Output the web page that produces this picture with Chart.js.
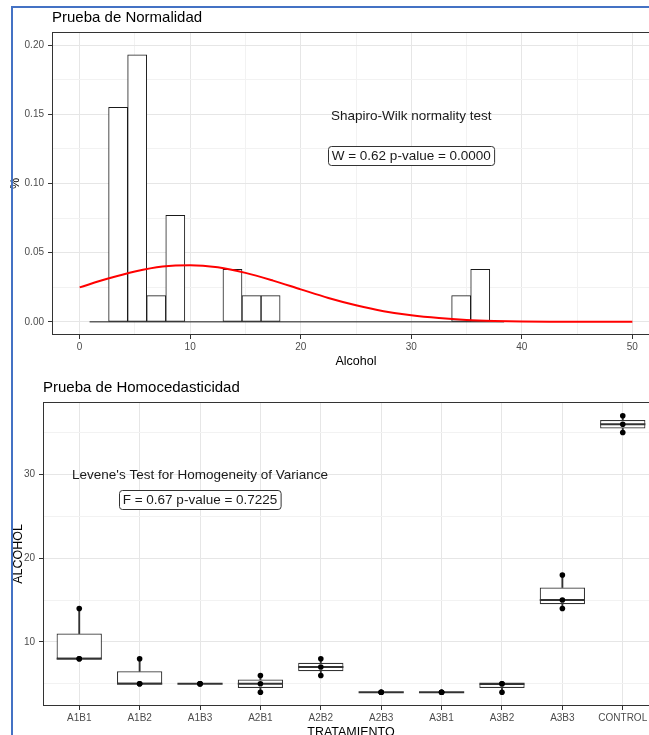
<!DOCTYPE html>
<html><head><meta charset="utf-8">
<script src="https://cdn.jsdelivr.net/npm/chart.js@4.4.1/dist/chart.umd.min.js"></script>
<style>
html,body{margin:0;padding:0;background:#fff;overflow:hidden;width:649px;height:735px;}
#wrap{position:relative;width:649px;height:735px;overflow:hidden;background:#fff;}
canvas{position:absolute;left:0;}
#c1{top:0;}
#c2{top:370px;}
#frame{position:absolute;left:11px;top:6px;width:700px;height:800px;border-left:2px solid #4472c4;border-top:2px solid #4472c4;pointer-events:none;}
</style></head><body>
<div id="wrap">
<canvas id="c1" width="670" height="370"></canvas>
<canvas id="c2" width="670" height="380"></canvas>
<div id="frame"></div>
</div>
<script>
// ---------- Data: Prueba de Normalidad (histogram of Alcohol, density scale) ----------
const histBinCenters = [3.482, 5.206, 6.930, 8.654, 13.826, 15.550, 17.274, 34.514, 36.238];
const histDensity    = [0.155, 0.193, 0.019, 0.077, 0.038, 0.019, 0.019, 0.019, 0.038];
const histBaseline   = [0.9, 38.4];
const curveX       = [0, 2.5, 5, 7.5, 10, 12.5, 15, 17.5, 20, 22.5, 25, 27.5, 30, 32.5, 35, 37.5, 40, 42.5, 45, 47.5, 50];
const curveDensity = [0.0249, 0.0311, 0.0364, 0.0400, 0.0410, 0.0394, 0.0354, 0.0298, 0.0235, 0.0173, 0.0120, 0.0077, 0.0047, 0.0027, 0.0014, 0.0007, 0.0003, 0.0001, 0.0000, 0.0000, 0.0000];
const topXTicks = [0, 10, 20, 30, 40, 50];                       // labelled ticks
const topXGrid  = [0, 5, 10, 15, 20, 25, 30, 35, 40, 45, 50];    // major + minor grid
const topYTicks = [0, 0.05, 0.10, 0.15, 0.20];
const topYGrid  = [0, 0.025, 0.05, 0.075, 0.10, 0.125, 0.15, 0.175, 0.20];

// ---------- Data: Prueba de Homocedasticidad (boxplots of ALCOHOL by TRATAMIENTO) ----------
const treatments = ['A1B1','A1B2','A1B3','A2B1','A2B2','A2B3','A3B1','A3B2','A3B3','CONTROL'];
const alcohol = [[8,8,14],[5,5,8],[5,5,5],[4,5,6],[6,7,8],[4,4,4],[4,4,4],[4,5,5],[14,15,18],[35,36,37]];
const whiskLow  = [8, 5, 5, 4,   6,   4, 4, 4,   14,   35];
const boxQ1     = [8, 5, 5, 4.5, 6.5, 4, 4, 4.5, 14.5, 35.5];
const boxMed    = [8, 5, 5, 5,   7,   4, 4, 5,   15,   36];
const boxQ3     = [11, 6.5, 5, 5.5, 7.5, 4, 4, 5, 16.5, 36.5];
const whiskHigh = [14, 8, 5, 6,   8,   4, 4, 5,   18,   37];
const bottomYTicks = [10, 20, 30];
const bottomYGrid  = [5, 10, 15, 20, 25, 30, 35];

// ---------- Styling ----------
const FONT = '"Liberation Sans", Arial, Helvetica, sans-serif';
Chart.defaults.font.family = FONT;
Chart.defaults.color = '#4d4d4d';
const GRID_MAJOR = '#e6e6e6', GRID_MINOR = '#f2f2f2', INK = '#333333';
const near = (v, list) => list.some(t => Math.abs(t - v) < 1e-7);
const fixTicks = values => scale => { scale.ticks = values.map(v => ({value: v})); };

const panelBorder = {
  id: 'panelBorder',
  afterDatasetsDraw(chart) {
    const {ctx, chartArea: a} = chart;
    ctx.save();
    ctx.strokeStyle = INK; ctx.lineWidth = 1;
    ctx.strokeRect(Math.round(a.left) + 0.5, Math.round(a.top) + 0.5,
                   Math.round(a.right - a.left), Math.round(a.bottom - a.top) - 1);
    ctx.restore();
  }
};

const annot = {
  id: 'annot',
  afterDatasetsDraw(chart, args, opts) {
    const {ctx, scales: {x, y}} = chart;
    ctx.save();
    ctx.font = '13.5px ' + FONT;
    ctx.textAlign = 'center';
    ctx.textBaseline = 'middle';
    (opts.items || []).forEach(n => {
      const px = x.getPixelForValue(n.x), py = y.getPixelForValue(n.y);
      if (n.box) {
        const w = ctx.measureText(n.text).width + 7, h = 19, r = 3;
        const l = Math.round(px - w / 2) + 0.5, t = Math.round(py - h / 2) + 0.5;
        ctx.beginPath();
        ctx.moveTo(l + r, t);
        ctx.lineTo(l + w - r, t); ctx.arcTo(l + w, t, l + w, t + r, r);
        ctx.lineTo(l + w, t + h - r); ctx.arcTo(l + w, t + h, l + w - r, t + h, r);
        ctx.lineTo(l + r, t + h); ctx.arcTo(l, t + h, l, t + h - r, r);
        ctx.lineTo(l, t + r); ctx.arcTo(l, t, l + r, t, r);
        ctx.closePath();
        ctx.fillStyle = '#fff'; ctx.fill();
        ctx.strokeStyle = INK; ctx.lineWidth = 1; ctx.stroke();
      }
      ctx.fillStyle = '#1a1a1a';
      ctx.fillText(n.text, px, py + 0.5);
    });
    ctx.restore();
  }
};

const topNotes = [
  {text: 'Shapiro-Wilk normality test', x: 30, y: 0.149, box: false},
  {text: 'W = 0.62 p-value = 0.0000', x: 30, y: 0.12, box: true}
];
const bottomNotes = [
  {text: "Levene's Test for Homogeneity of Variance", x: 3, y: 30, box: false},
  {text: 'F = 0.67 p-value = 0.7225', x: 3, y: 27, box: true}
];

const titleOpts = text => ({
  display: true, text, align: 'start', fullSize: false, color: '#000',
  font: {size: 15, weight: 'normal'}, padding: {top: 9, bottom: 5}
});
const axisTitle = (text, pad) => ({display: true, text, color: '#000', font: {size: 12.5}, padding: pad});

// ---------- Chart 1: histogram + normal curve ----------
new Chart(document.getElementById('c1'), {
  type: 'bar',
  data: {
    datasets: [
      {type: 'line', data: curveX.map((x, i) => ({x, y: curveDensity[i]})),
       borderColor: '#ff0000', borderWidth: 2, pointRadius: 0, cubicInterpolationMode: 'monotone', order: 0},
      {type: 'bar', data: histBinCenters.map((x, i) => ({x, y: histDensity[i]})),
       backgroundColor: '#ffffff', borderColor: '#1a1a1a', borderWidth: 1, borderSkipped: false,
       categoryPercentage: 1, barPercentage: 1, order: 1},
      {type: 'line', data: histBaseline.map(x => ({x, y: 0})),
       borderColor: '#1a1a1a', borderWidth: 1, pointRadius: 0, order: 2}
    ]
  },
  options: {
    responsive: false, animation: false,
    layout: {autoPadding: false, padding: {left: 0, right: 10, top: 0, bottom: 0}},
    plugins: {
      legend: {display: false}, tooltip: {enabled: false},
      title: titleOpts('Prueba de Normalidad'),
      annot: {items: topNotes}
    },
    scales: {
      x: {
        type: 'linear', min: -2.5, max: 52.5, offset: false,
        afterBuildTicks: fixTicks(topXGrid),
        grid: {offset: false, color: c => near(c.tick.value, topXTicks) ? GRID_MAJOR : GRID_MINOR,
               tickColor: c => near(c.tick.value, topXTicks) ? INK : 'rgba(0,0,0,0)', tickLength: 4},
        border: {display: false},
        ticks: {autoSkip: false, maxRotation: 0, padding: 2, font: {size: 10}, color: '#4d4d4d',
                callback: v => near(v, topXTicks) ? String(Math.round(v)) : ''},
        title: axisTitle('Alcohol', {top: 0, bottom: 0.5}),
        afterFit: s => { s.height = 35; }
      },
      y: {
        type: 'linear', min: -0.0095, max: 0.2095,
        afterBuildTicks: fixTicks(topYGrid),
        grid: {color: c => near(c.tick.value, topYTicks) ? GRID_MAJOR : GRID_MINOR,
               tickColor: c => near(c.tick.value, topYTicks) ? INK : 'rgba(0,0,0,0)', tickLength: 4},
        border: {display: false},
        ticks: {autoSkip: false, padding: 4, font: {size: 10}, color: '#4d4d4d',
                callback: v => near(v, topYTicks) ? v.toFixed(2) : ''},
        title: axisTitle('%', {top: 8.5, bottom: 0}),
        afterFit: s => { s.width = 52; }
      }
    }
  },
  plugins: [panelBorder, annot]
});

// ---------- Chart 2: boxplots ----------
new Chart(document.getElementById('c2'), {
  type: 'bar',
  data: {
    datasets: [
      {type: 'scatter', data: alcohol.flatMap((vals, i) => vals.map(v => ({x: i + 1, y: v}))),
       pointRadius: 2.8, pointBackgroundColor: '#000', pointBorderWidth: 0, order: 0},
      {type: 'scatter', data: boxMed.map((m, i) => ({x: i + 1, y: m})),
       pointStyle: 'line', pointRadius: 22.6, pointBorderColor: INK, pointBorderWidth: 2, order: 1},
      {type: 'bar', data: boxQ1.map((q, i) => ({x: i + 1, y: [q, boxQ3[i]]})),
       backgroundColor: '#ffffff', borderColor: INK, borderWidth: 1.2, borderSkipped: false,
       grouped: false, categoryPercentage: 1, barPercentage: 0.75, order: 2},
      {type: 'bar', data: whiskLow.map((w, i) => ({x: i + 1, y: [w, boxQ1[i]]})),
       backgroundColor: INK, borderWidth: 0, grouped: false, barThickness: 1.2, order: 3},
      {type: 'bar', data: boxQ3.map((q, i) => ({x: i + 1, y: [q, whiskHigh[i]]})),
       backgroundColor: INK, borderWidth: 0, grouped: false, barThickness: 1.2, order: 3}
    ]
  },
  options: {
    responsive: false, animation: false,
    layout: {autoPadding: false, padding: {left: 0, right: 11, top: 0, bottom: 0}},
    plugins: {
      legend: {display: false}, tooltip: {enabled: false},
      title: titleOpts('Prueba de Homocedasticidad'),
      annot: {items: bottomNotes}
    },
    scales: {
      x: {
        type: 'linear', min: 0.4, max: 10.6, offset: false,
        afterBuildTicks: fixTicks(treatments.map((t, i) => i + 1)),
        grid: {offset: false, color: GRID_MAJOR, tickColor: INK, tickLength: 4},
        border: {display: false},
        ticks: {autoSkip: false, maxRotation: 0, padding: 2, font: {size: 10}, color: '#4d4d4d',
                callback: v => treatments[Math.round(v) - 1] || ''},
        title: axisTitle('TRATAMIENTO', {top: 0, bottom: 9.5}),
        afterFit: s => { s.height = 44; }
      },
      y: {
        type: 'linear', min: 2.35, max: 38.65,
        afterBuildTicks: fixTicks(bottomYGrid),
        grid: {color: c => near(c.tick.value, bottomYTicks) ? GRID_MAJOR : GRID_MINOR,
               tickColor: c => near(c.tick.value, bottomYTicks) ? INK : 'rgba(0,0,0,0)', tickLength: 4},
        border: {display: false},
        ticks: {autoSkip: false, padding: 4, font: {size: 10}, color: '#4d4d4d',
                callback: v => near(v, bottomYTicks) ? String(v) : ''},
        title: axisTitle('ALCOHOL', {top: 11.5, bottom: 0}),
        afterFit: s => { s.width = 43; }
      }
    }
  },
  plugins: [panelBorder, annot]
});
</script>
</body></html>
